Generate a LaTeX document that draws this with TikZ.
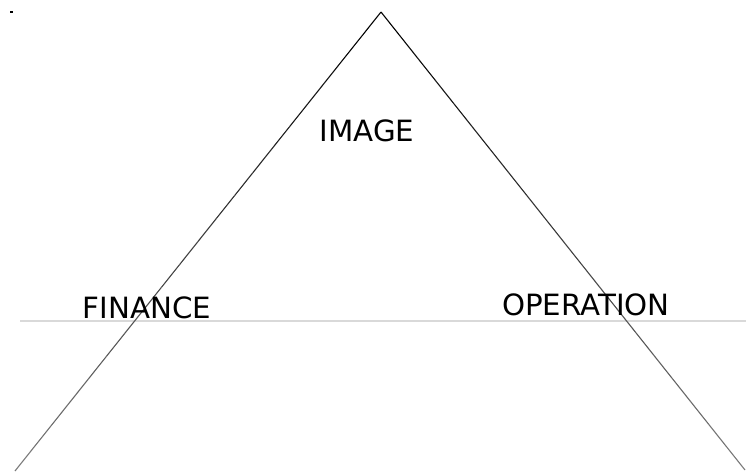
\documentclass[tikz,border=0pt]{standalone}
\usepackage{fontspec}
\setmainfont{DejaVu Sans}
\usetikzlibrary{calc}
\begin{document}
\begin{tikzpicture}[x=1pt,y=-1pt,
  lbl/.style={anchor=base,inner sep=0pt,font=\fontsize{29.3}{31}\selectfont},
  side/.style={line width=1.1pt},
  base/.style={line width=1.3pt,draw=black!15}]
\useasboundingbox (0,0) rectangle (746,473);
\coordinate (apex) at (381,12);
\coordinate (bl) at (15,471);
\coordinate (br) at (745,470);
\coordinate (hl) at (20,321);
\coordinate (hr) at (746,321);
\fill (10,11.5) rectangle (13,13);
\draw[base] (hl) -- (hr);
\foreach \i in {0,...,19}{
  \pgfmathsetmacro{\c}{100-\i*2.5}
  \draw[side,draw=black!\c] ($(apex)!\i/20!(bl)$) -- ($(apex)!{(\i+1)/20}!(bl)$);
  \draw[side,draw=black!\c] ($(apex)!\i/20!(br)$) -- ($(apex)!{(\i+1)/20}!(br)$);
}
\node[lbl] (image) at (367,142) {IMAGE};
\node[lbl] (finance) at (147,318) {FINANCE};
\node[lbl] (operation) at (586,315) {OPERATION};
\end{tikzpicture}
\end{document}
